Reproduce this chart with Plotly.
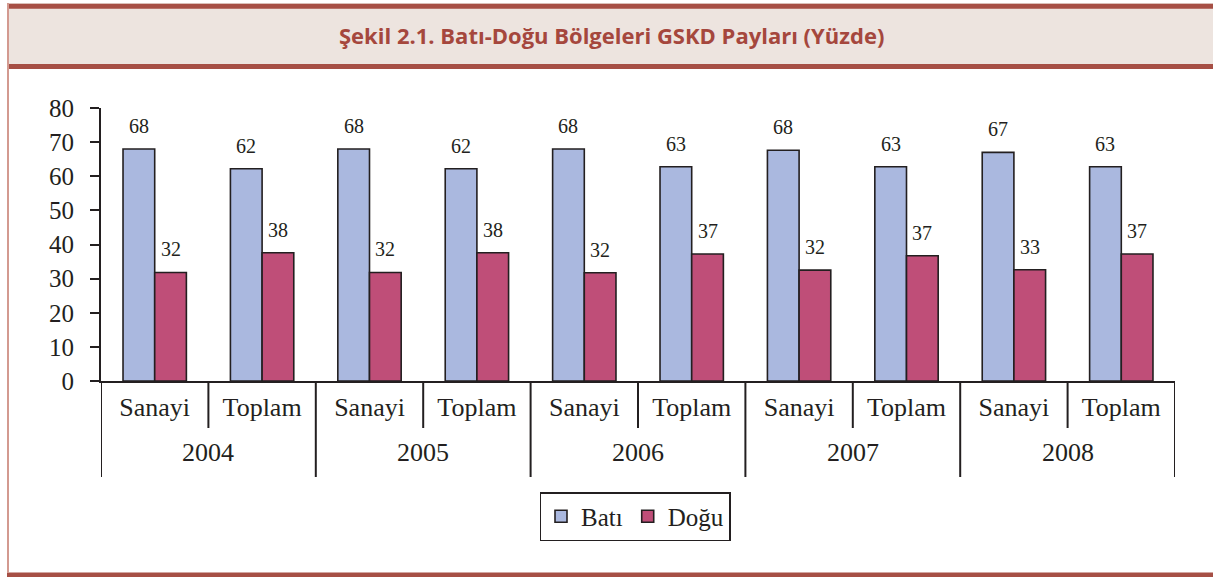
import plotly.graph_objects as go

# ---- data ----
years = ["2004", "2005", "2006", "2007", "2008"]
sectors = ["Sanayi", "Toplam"]
bati_values = [68.0, 62.2, 68.0, 62.2, 68.0, 62.8, 67.6, 62.8, 67.0, 62.8]
dogu_values = [31.8, 37.6, 31.8, 37.6, 31.7, 37.2, 32.5, 36.7, 32.6, 37.2]
bati_labels = ["68", "62", "68", "62", "68", "63", "68", "63", "67", "63"]
dogu_labels = ["32", "38", "32", "38", "32", "37", "32", "37", "33", "37"]
series_names = ["Batı", "Doğu"]
title_text = "Şekil 2.1. Batı-Doğu Bölgeleri GSKD Payları (Yüzde)"
y_ticks = [0, 10, 20, 30, 40, 50, 60, 70, 80]

# ---- styling ----
W, H = 1213, 577
ML, MR, MT, MB = 101, 38, 108, 196
PW, PH = W - ML - MR, H - MT - MB
INK = "#231F20"
BLUE = "#AAB8DF"
PINK = "#BF4E78"
BROWN = "#A64F45"
BAND = "#EDE4DF"
SERIF = "Liberation Serif"
BARGAP = 0.41


def pxx(x):
    return (x - ML) / PW


def pxy(y):
    return (MT + PH - y) / PH


cats = [(y, s) for y in years for s in sectors]
pos = list(range(len(cats)))
bw = (1 - BARGAP) / 2

fig = go.Figure()
fig.add_trace(go.Bar(
    x=pos, y=bati_values, name=series_names[0],
    marker=dict(color=BLUE, line=dict(color=INK, width=1.6)),
    hoverinfo="skip",
))
fig.add_trace(go.Bar(
    x=pos, y=dogu_values, name=series_names[1],
    marker=dict(color=PINK, line=dict(color=INK, width=1.6)),
    hoverinfo="skip",
))

shapes = []
# frame decorations
shapes.append(dict(type="rect", xref="paper", yref="paper",
                   x0=pxx(7), x1=pxx(W), y0=pxy(69), y1=pxy(3),
                   fillcolor=BAND, line=dict(width=0), layer="below"))
for yy, w in [(6.2, 5), (66.5, 5), (575, 5)]:
    shapes.append(dict(type="line", xref="paper", yref="paper",
                       x0=pxx(7), x1=pxx(W), y0=pxy(yy), y1=pxy(yy),
                       line=dict(color=BROWN, width=w)))
shapes.append(dict(type="line", xref="paper", yref="paper",
                   x0=pxx(8), x1=pxx(8), y0=pxy(3), y1=pxy(573),
                   line=dict(color="#D39A90", width=2)))

# category dividers
n_s = len(sectors)
for i in range(len(cats) + 1):
    xb = i - 0.5
    outer = (i % n_s == 0)
    shapes.append(dict(type="line", xref="x", yref="paper",
                       x0=xb, x1=xb, y0=0, y1=pxy(477 if outer else 428),
                       line=dict(color=INK, width=2)))

annotations = []
annotations.append(dict(text="<b>" + title_text + "</b>", xref="paper", yref="paper",
                        x=pxx(611), y=pxy(35), xanchor="center", yanchor="middle",
                        showarrow=False,
                        font=dict(family="Open Sans", size=22, color="#A5473D")))
for gi, yr in enumerate(years):
    center = gi * n_s + (n_s - 1) / 2
    annotations.append(dict(text=yr, xref="x", yref="paper", x=center, y=pxy(452),
                            xanchor="center", yanchor="middle", showarrow=False,
                            font=dict(family=SERIF, size=26, color=INK)))
# value labels above bars
for vals, labs, sgn in [(bati_values, bati_labels, -1), (dogu_values, dogu_labels, 1)]:
    for p, v, t in zip(pos, vals, labs):
        annotations.append(dict(text=t, xref="x", yref="y", x=p + sgn * bw / 2, y=v,
                                xanchor="center", yanchor="bottom", yshift=10,
                                showarrow=False,
                                font=dict(family=SERIF, size=20, color=INK)))

fig.update_layout(
    width=W, height=H,
    margin=dict(l=ML, r=MR, t=MT, b=MB),
    paper_bgcolor="white", plot_bgcolor="white",
    barmode="group", bargap=BARGAP, bargroupgap=0,
    showlegend=True,
    legend=dict(orientation="h", x=pxx(635), xanchor="center",
                y=pxy(492), yanchor="top",
                font=dict(family=SERIF, size=25, color=INK),
                bordercolor=INK, borderwidth=1.5, bgcolor="white",
                itemwidth=30),
    xaxis=dict(range=[-0.5, len(cats) - 0.5], tickvals=pos,
               ticktext=[s for _, s in cats],
               ticks="outside", ticklen=2, tickcolor="rgba(0,0,0,0)",
               showline=True, linecolor=INK, linewidth=2,
               showgrid=False, zeroline=False,
               tickfont=dict(family=SERIF, size=26, color=INK)),
    yaxis=dict(range=[0, 80], tickvals=y_ticks,
               ticks="outside", ticklen=9, tickwidth=2, tickcolor=INK,
               ticklabelstandoff=11,
               showline=True, linecolor=INK, linewidth=2,
               showgrid=False, zeroline=False,
               tickfont=dict(family=SERIF, size=25, color=INK)),
    shapes=shapes,
    annotations=annotations,
)

fig.write_html("out.html", config={"displayModeBar": False},
               post_script="document.body.style.margin='0px';")
